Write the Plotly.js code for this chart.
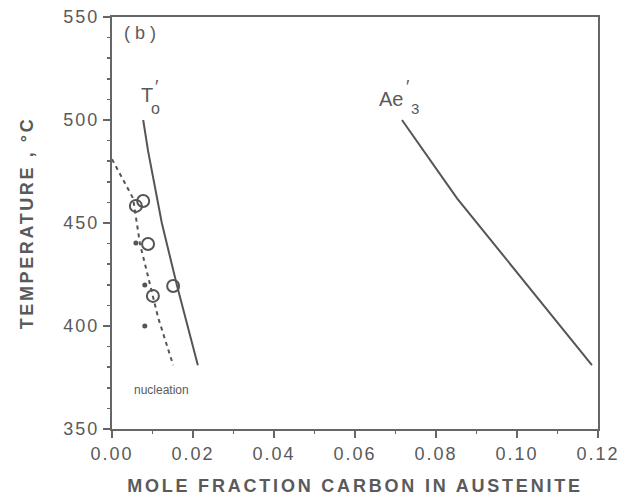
<!DOCTYPE html>
<html>
<head>
<meta charset="utf-8">
<script src="https://cdn.plot.ly/plotly-3.0.1.min.js"></script>
<style>
body{margin:0;background:#fff;}
#chart{width:631px;height:500px;}
#chart .xtick text, #chart .ytick text{letter-spacing:2px;}
#chart .xtitle{letter-spacing:2.8px;}
#chart .ytitle{letter-spacing:2.6px;}
</style>
</head>
<body>
<div id="chart"></div>
<script>
// T0' curve
var t0X = [0.0077, 0.0089, 0.0123, 0.0160, 0.0212];
var t0Y = [500, 485, 450, 420, 381];
// Ae3' curve
var aeX = [0.0716, 0.0852, 0.1185];
var aeY = [500, 462, 381];
// nucleation (dashed)
var nucX = [0.0, 0.0052, 0.0069, 0.0114, 0.0151];
var nucY = [481, 462, 440, 404, 381];
// open circles
var openX = [0.0077, 0.0059, 0.0089, 0.0151, 0.0101];
var openY = [460.7, 458.3, 439.8, 419.4, 414.6];
// filled dots
var dotX = [0.0059, 0.0081, 0.0081];
var dotY = [440.3, 419.9, 400];
var xTicks = [0, 0.02, 0.04, 0.06, 0.08, 0.10, 0.12];
var xTickText = ['0.00', '0.02', '0.04', '0.06', '0.08', '0.10', '0.12'];
var yTicks = [350, 400, 450, 500, 550];

var lineCol = '#555';
var txtCol = '#5a5a5a';
var ff = 'Liberation Sans, Arial, sans-serif';
var traces = [
  {x: t0X, y: t0Y, mode: 'lines', line: {color: lineCol, width: 2}, hoverinfo: 'none'},
  {x: aeX, y: aeY, mode: 'lines', line: {color: lineCol, width: 2}, hoverinfo: 'none'},
  {x: nucX, y: nucY, mode: 'lines', line: {color: lineCol, width: 2, dash: '4px,4px'}, hoverinfo: 'none'},
  {x: openX, y: openY, mode: 'markers', marker: {symbol: 'circle-open', size: 12, color: lineCol, line: {width: 2, color: lineCol}}, hoverinfo: 'none'},
  {x: dotX, y: dotY, mode: 'markers', marker: {symbol: 'circle', size: 5, color: lineCol}, hoverinfo: 'none'}
];
var layout = {
  width: 631, height: 500,
  margin: {l: 112, r: 33, t: 17, b: 71},
  paper_bgcolor: '#fff', plot_bgcolor: '#fff',
  showlegend: false,
  font: {family: ff, color: txtCol},
  xaxis: {
    range: [0, 0.12], tickvals: xTicks, ticktext: xTickText,
    ticks: 'outside', ticklen: 7, tickwidth: 1.5, tickcolor: '#666',
    minor: {dtick: 0.01, ticks: 'outside', ticklen: 3, tickcolor: '#666', tickwidth: 1.5},
    showline: true, linecolor: '#666', linewidth: 2, mirror: true,
    showgrid: false, zeroline: false,
    tickfont: {size: 18, color: txtCol, family: ff},
    title: {text: '<b>MOLE FRACTION CARBON IN AUSTENITE</b>', font: {size: 18, color: txtCol, family: ff}, standoff: 17}
  },
  yaxis: {
    range: [350, 550], tickvals: yTicks,
    ticks: 'outside', ticklen: 7, tickwidth: 1.5, tickcolor: '#666',
    minor: {dtick: 10, ticks: 'outside', ticklen: 3, tickcolor: '#666', tickwidth: 1.5},
    showline: true, linecolor: '#666', linewidth: 2, mirror: true,
    showgrid: false, zeroline: false,
    tickfont: {size: 18, color: txtCol, family: ff},
    title: {text: '<b>TEMPERATURE , °C</b>', font: {size: 18, color: txtCol, family: ff}, standoff: 31}
  },
  annotations: [
    {x: 0.0069, y: 542, text: '( b )', showarrow: false, font: {size: 18, color: txtCol}},
    {x: 0.0086, y: 512, text: 'T', showarrow: false, font: {size: 20, color: txtCol}},
    {x: 0.0111, y: 516, text: '′', showarrow: false, font: {size: 18, color: txtCol}},
    {x: 0.0107, y: 505.5, text: 'o', showarrow: false, font: {size: 16, color: txtCol}},
    {x: 0.0689, y: 510, text: 'Ae', showarrow: false, font: {size: 20, color: txtCol}},
    {x: 0.0732, y: 516, text: '′', showarrow: false, font: {size: 18, color: txtCol}},
    {x: 0.0747, y: 505.5, text: '3', showarrow: false, font: {size: 15, color: txtCol}},
    {x: 0.0123, y: 369, text: 'nucleation', showarrow: false, font: {size: 12, color: txtCol}}
  ]
};
Plotly.newPlot('chart', traces, layout, {staticPlot: true});
</script>
</body>
</html>
